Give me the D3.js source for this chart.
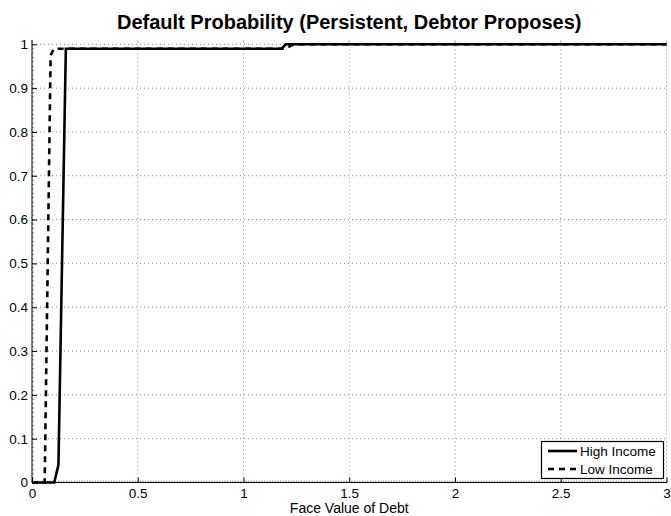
<!DOCTYPE html>
<html><head><meta charset="utf-8">
<script src="https://cdn.jsdelivr.net/npm/d3@7"></script>
<style>body{margin:0;background:#fff}svg{display:block}text{font-family:"Liberation Sans",Arial,sans-serif;fill:#000}</style>
</head><body><svg id="c" width="671" height="516"></svg>
<script>
const titleText = "Default Probability (Persistent, Debtor Proposes)";
const xLabelText = "Face Value of Debt";
const seriesNames = ["High Income", "Low Income"];
const xTicks = [0, 0.5, 1, 1.5, 2, 2.5, 3];
const yTicks = [0, 0.1, 0.2, 0.3, 0.4, 0.5, 0.6, 0.7, 0.8, 0.9, 1];
const xHigh = [0, 0.105, 0.125, 0.16, 1.18, 1.2, 3];
const yHigh = [0, 0, 0.04, 0.99, 0.99, 1.0, 1.0];
const xLow = [0, 0.06, 0.088, 0.104, 1.2, 1.22, 1.24, 3];
const yLow = [0, 0, 0.975, 0.99, 0.99, 0.996, 1.0, 1.0];

const svg = d3.select("#c");
const L = 32, R = 666.5, B = 482.5, T = 40;
const x = d3.scaleLinear().domain([0, 3]).range([L, R]);
const y = d3.scaleLinear().domain([0, 1]).range([B, 44.3]);

// grid
const g = svg.append("g");
g.selectAll(".gx").data(xTicks.slice(1)).join("line")
  .attr("x1", d => x(d)).attr("x2", d => x(d)).attr("y1", B).attr("y2", T)
  .attr("stroke", "#888").attr("stroke-dasharray", "1,3");
g.selectAll(".gy").data(yTicks.slice(1)).join("line")
  .attr("y1", d => y(d)).attr("y2", d => y(d)).attr("x1", L).attr("x2", R)
  .attr("stroke", "#888").attr("stroke-dasharray", "1,3");

// minor ticks
const minorX = d3.range(0, 3.0001, 0.0125);
const minorY = d3.range(0, 1.0001, 0.01);
g.selectAll(".mx").data(minorX).join("line")
  .attr("x1", d => x(d)).attr("x2", d => x(d)).attr("y1", B).attr("y2", B - 2)
  .attr("stroke", "#777").attr("stroke-width", 0.8);
g.selectAll(".my").data(minorY).join("line")
  .attr("y1", d => y(d)).attr("y2", d => y(d)).attr("x1", L).attr("x2", L + 2)
  .attr("stroke", "#777").attr("stroke-width", 0.8);

// axes
const xAxis = d3.axisBottom(x).tickValues(xTicks).tickSize(-5).tickPadding(6).tickFormat(d3.format("~g"));
const yAxis = d3.axisLeft(y).tickValues(yTicks).tickSize(-5).tickPadding(4).tickFormat(d3.format("~g"));
const gx = svg.append("g").attr("transform", `translate(0,${B})`).call(xAxis);
const gy = svg.append("g").attr("transform", `translate(${L},0)`).call(yAxis);
[gx, gy].forEach(a => {
  a.select(".domain").remove();
  a.selectAll(".tick line").attr("stroke", "#000");
  a.selectAll(".tick text").attr("font-size", 13.5).attr("font-family", '"Liberation Sans",Arial,sans-serif');
});
gy.selectAll(".tick text").attr("x", -4);
// top faint ticks
svg.append("g").selectAll("line").data(xTicks).join("line")
  .attr("x1", d => x(d)).attr("x2", d => x(d)).attr("y1", T).attr("y2", T + 3)
  .attr("stroke", "#bbb");
svg.append("line").attr("x1", L).attr("x2", R + 0.5).attr("y1", B).attr("y2", B).attr("stroke", "#000");
svg.append("line").attr("x1", L).attr("x2", L).attr("y1", B).attr("y2", T).attr("stroke", "#000");

// lines
const line = d3.line().x(d => x(d[0])).y(d => y(d[1]));
const highData = xHigh.map((v, i) => [v, yHigh[i]]);
const lowData = xLow.map((v, i) => [v, yLow[i]]);
svg.append("path").datum(lowData).attr("d", line).attr("fill", "none")
  .attr("stroke", "#000").attr("stroke-width", 2.6).attr("stroke-dasharray", "6,5");
svg.append("path").datum(highData).attr("d", line).attr("fill", "none")
  .attr("stroke", "#000").attr("stroke-width", 2.6);

// title & label
svg.append("text").attr("x", (L + R) / 2).attr("y", 29).attr("text-anchor", "middle")
  .attr("font-size", 20).attr("font-weight", "bold").text(titleText);
svg.append("text").attr("x", (L + R) / 2).attr("y", 513).attr("text-anchor", "middle")
  .attr("font-size", 14).text(xLabelText);

// legend
const lg = svg.append("g");
lg.append("rect").attr("x", 541.5).attr("y", 441.5).attr("width", 122).attr("height", 37)
  .attr("fill", "#fff").attr("stroke", "#000").attr("stroke-width", 1.2);
const dashes = [null, "6,5"];
seriesNames.forEach((n, i) => {
  const yy = 451 + i * 18;
  lg.append("line").attr("x1", 548).attr("x2", 577).attr("y1", yy).attr("y2", yy)
    .attr("stroke", "#000").attr("stroke-width", 2.6).attr("stroke-dasharray", dashes[i]);
  lg.append("text").attr("x", 580).attr("y", yy + 5).attr("font-size", 13.5).text(n);
});
</script></body></html>
